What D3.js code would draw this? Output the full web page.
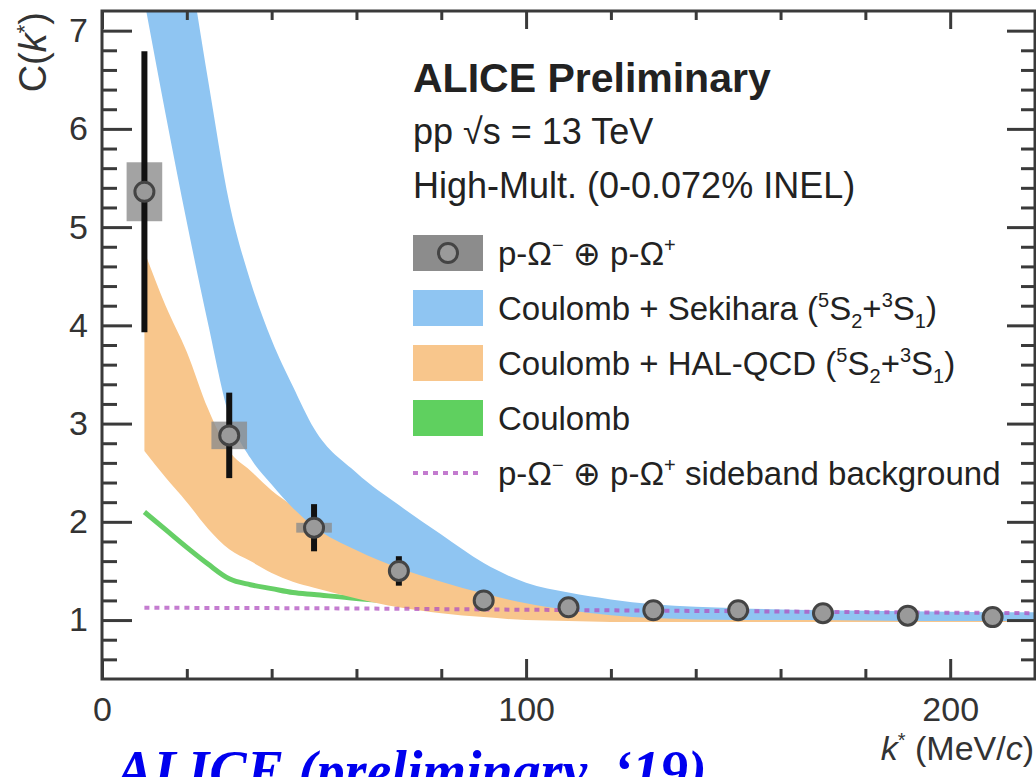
<!DOCTYPE html>
<html>
<head>
<meta charset="utf-8">
<script src="https://cdn.jsdelivr.net/npm/d3@7"></script>
<style>
  html, body { margin: 0; padding: 0; background: #fff; }
  svg { display: block; }
</style>
</head>
<body>
<svg id="chart" width="1036" height="777"></svg>
<script>
// ---------------- DATA ----------------
const kPoints   = [10, 30, 50, 70, 90, 110, 130, 150, 170, 190, 210];
const cPoints   = [5.36, 2.88, 1.94, 1.50, 1.20, 1.13, 1.10, 1.10, 1.07, 1.045, 1.03];
const statErr   = [1.43, 0.435, 0.24, 0.15, 0.05, 0.03, 0.02, 0.02, 0.02, 0.02, 0.02];
const systErr   = [0.30, 0.14, 0.05, 0, 0, 0, 0, 0, 0, 0, 0];

const kBand          = [10, 15, 20, 25, 30, 35, 40, 45, 50, 60, 70, 80, 90, 100, 110, 120, 130, 150, 170, 190, 210, 220];
const sekiharaUpper  = [10.0, 8.8, 7.8, 6.5, 5.25, 4.45, 3.85, 3.38, 2.95, 2.5, 2.17, 1.87, 1.58, 1.38, 1.28, 1.21, 1.16, 1.12, 1.10, 1.09, 1.08, 1.08];
const sekiharaLower  = [7.3, 6.15, 5.05, 4.02, 3.08, 2.65, 2.38, 2.14, 1.95, 1.71, 1.53, 1.39, 1.27, 1.17, 1.10, 1.05, 1.02, 1.00, 1.00, 0.99, 0.99, 0.99];
const halUpper       = [4.75, 4.2, 3.73, 3.15, 2.72, 2.52, 2.32, 2.16, 1.99, 1.75, 1.56, 1.42, 1.30, 1.20, 1.12, 1.07, 1.04, 1.02, 1.01, 1.01, 1.00, 1.00];
const halLower       = [2.72, 2.45, 2.2, 1.93, 1.72, 1.6, 1.48, 1.39, 1.33, 1.22, 1.13, 1.07, 1.03, 1.00, 0.99, 0.98, 0.98, 0.98, 0.98, 0.98, 0.98, 0.98];
const coulombOnly    = [2.10, 1.92, 1.74, 1.57, 1.42, 1.36, 1.32, 1.28, 1.26, 1.22, 1.19, 1.16, 1.14, 1.12, 1.10, 1.09, 1.08, 1.06, 1.05, 1.04, 1.03, 1.03];

const kSideband  = [10, 50, 100, 150, 200, 220];
const sideband   = [1.125, 1.12, 1.105, 1.09, 1.075, 1.07];

const xMajorTicks = [0, 100, 200];
const xMinorTicks = [20, 40, 60, 80, 120, 140, 160, 180, 220];
const yMajorTicks = [1, 2, 3, 4, 5, 6, 7];

const headerLines = ["ALICE Preliminary", "pp  √s = 13 TeV", "High-Mult. (0-0.072% INEL)"];
const legendLabels = [
  [["p-Ω", "n"], ["−", "sup"], [" ⊕ p-Ω", "n"], ["+", "sup"]],
  [["Coulomb + Sekihara (", "n"], ["5", "sup"], ["S", "n"], ["2", "sub"], ["+", "n"], ["3", "sup"], ["S", "n"], ["1", "sub"], [")", "n"]],
  [["Coulomb + HAL-QCD (", "n"], ["5", "sup"], ["S", "n"], ["2", "sub"], ["+", "n"], ["3", "sup"], ["S", "n"], ["1", "sub"], [")", "n"]],
  [["Coulomb", "n"]],
  [["p-Ω", "n"], ["−", "sup"], [" ⊕ p-Ω", "n"], ["+", "sup"], [" sideband background", "n"]]
];
const footnote = "ALICE (preliminary, ‘19)";

// ---------------- STYLE ----------------
const blue = "#8fc5f2", orange = "#f8c68c", green = "#66cf66", magenta = "#b050c0";
const axisCol = "#3a3a3a";
const sans = "'Liberation Sans', Arial, Helvetica, sans-serif";

// ---------------- SCALES ----------------
const x = d3.scaleLinear().domain([0, 220]).range([102, 1035]);
const y = d3.scaleLinear().domain([0.4, 7.2]).range([679, 11]);

const svg = d3.select("#chart").style("font-family", sans);
svg.append("defs").append("clipPath").attr("id", "plotClip")
  .append("rect").attr("x", x(0)).attr("y", y(7.2)).attr("width", x(220) - x(0)).attr("height", y(0.4) - y(7.2));

const plot = svg.append("g").attr("clip-path", "url(#plotClip)");

const bandData = kBand.map((k, i) => ({k, su: sekiharaUpper[i], sl: sekiharaLower[i], hu: halUpper[i], hl: halLower[i], c: coulombOnly[i]}));

// Coulomb line
plot.append("path").datum(bandData)
  .attr("d", d3.line().x(d => x(d.k)).y(d => y(d.c)).curve(d3.curveMonotoneX))
  .attr("fill", "none").attr("stroke", green).attr("stroke-width", 5);

// HAL-QCD band
plot.append("path").datum(bandData)
  .attr("d", d3.area().x(d => x(d.k)).y0(d => y(d.hl)).y1(d => y(d.hu)).curve(d3.curveMonotoneX))
  .attr("fill", orange);

// Sekihara band
plot.append("path").datum(bandData)
  .attr("d", d3.area().x(d => x(d.k)).y0(d => y(d.sl)).y1(d => y(d.su)).curve(d3.curveMonotoneX))
  .attr("fill", blue);

// sideband background
const sideData = kSideband.map((k, i) => ({k, v: sideband[i]}));
plot.append("path").datum(sideData)
  .attr("d", d3.line().x(d => x(d.k)).y(d => y(d.v)).curve(d3.curveMonotoneX))
  .attr("fill", "none").attr("stroke", magenta).attr("stroke-width", 4)
  .attr("stroke-dasharray", "5,5").attr("opacity", 0.75);

// data points
const pts = kPoints.map((k, i) => ({k, c: cPoints[i], s: statErr[i], sy: systErr[i]}));
const pg = plot.append("g");
pg.selectAll("rect.syst").data(pts.filter(d => d.sy > 0)).join("rect")
  .attr("x", d => x(d.k - 4.2)).attr("width", d => x(d.k + 4.2) - x(d.k - 4.2))
  .attr("y", d => y(d.c + d.sy)).attr("height", d => y(d.c - d.sy) - y(d.c + d.sy))
  .attr("fill", "#8c8c8c").attr("opacity", 0.8);
pg.selectAll("line.stat").data(pts).join("line")
  .attr("x1", d => x(d.k)).attr("x2", d => x(d.k))
  .attr("y1", d => y(d.c + d.s)).attr("y2", d => y(d.c - d.s))
  .attr("stroke", "#111").attr("stroke-width", 6);
pg.selectAll("circle").data(pts).join("circle")
  .attr("cx", d => x(d.k)).attr("cy", d => y(d.c)).attr("r", 9.5)
  .attr("fill", "#9a9a9a").attr("stroke", "#444").attr("stroke-width", 3);

// ---------------- AXES ----------------
function styleAxis(g) {
  g.select(".domain").remove();
  g.selectAll("line").attr("stroke", axisCol).attr("stroke-width", 3);
}
function styleLabels(g) {
  g.select(".domain").remove();
  g.selectAll("text").attr("font-size", 34).attr("fill", "#333").style("font-family", sans);
}
const yMinor = d3.range(6, 72, 2).map(v => v / 10).filter(v => Math.abs(v - Math.round(v)) > 1e-6);

// left
svg.append("g").attr("transform", `translate(${x(0)},0)`)
  .call(d3.axisRight(y).tickValues(yMajorTicks).tickSize(30).tickFormat("")).call(styleAxis);
svg.append("g").attr("transform", `translate(${x(0)},0)`)
  .call(d3.axisRight(y).tickValues(yMinor).tickSize(15).tickFormat("")).call(styleAxis);
svg.append("g").attr("transform", `translate(${x(0)},0)`)
  .call(d3.axisLeft(y).tickValues(yMajorTicks).tickSize(0).tickPadding(14).tickFormat(d3.format("d")))
  .call(styleLabels);
// right
svg.append("g").attr("transform", `translate(${x(220)},0)`)
  .call(d3.axisLeft(y).tickValues(yMajorTicks).tickSize(28).tickFormat("")).call(styleAxis);
svg.append("g").attr("transform", `translate(${x(220)},0)`)
  .call(d3.axisLeft(y).tickValues(yMinor).tickSize(14).tickFormat("")).call(styleAxis);
// bottom
svg.append("g").attr("transform", `translate(0,${y(0.4)})`)
  .call(d3.axisTop(x).tickValues(xMajorTicks).tickSize(20).tickFormat("")).call(styleAxis);
svg.append("g").attr("transform", `translate(0,${y(0.4)})`)
  .call(d3.axisTop(x).tickValues(xMinorTicks).tickSize(10).tickFormat("")).call(styleAxis);
svg.append("g").attr("transform", `translate(0,${y(0.4)})`)
  .call(d3.axisBottom(x).tickValues(xMajorTicks).tickSize(0).tickPadding(18).tickFormat(d3.format("d")))
  .call(styleLabels);
// top
svg.append("g").attr("transform", `translate(0,${y(7.2)})`)
  .call(d3.axisBottom(x).tickValues(xMajorTicks).tickSize(18).tickFormat("")).call(styleAxis);
svg.append("g").attr("transform", `translate(0,${y(7.2)})`)
  .call(d3.axisBottom(x).tickValues(xMinorTicks).tickSize(9).tickFormat("")).call(styleAxis);

// frame
svg.append("rect").attr("x", x(0)).attr("y", y(7.2)).attr("width", x(220) - x(0)).attr("height", y(0.4) - y(7.2))
  .attr("fill", "none").attr("stroke", axisCol).attr("stroke-width", 3);

// axis titles
const yt = svg.append("text").attr("transform", "translate(46,12) rotate(-90)")
  .attr("text-anchor", "end").attr("font-size", 38).attr("fill", "#333");
yt.append("tspan").text("C(");
yt.append("tspan").attr("font-style", "italic").text("k");
yt.append("tspan").attr("font-size", 22).attr("dy", -14).text("*");
yt.append("tspan").attr("dy", 14).text(")");

const xt = svg.append("text").attr("x", 1034).attr("y", 760).attr("text-anchor", "end")
  .attr("font-size", 34).attr("fill", "#333");
xt.append("tspan").attr("font-style", "italic").text("k");
xt.append("tspan").attr("font-size", 20).attr("dy", -13).text("*");
xt.append("tspan").attr("dy", 13).text(" (MeV/");
xt.append("tspan").attr("font-style", "italic").text("c");
xt.append("tspan").text(")");

// ---------------- HEADER & LEGEND ----------------
const hdr = svg.append("g").attr("fill", "#222");
hdr.append("text").attr("x", 413).attr("y", 92).attr("font-size", 41).attr("font-weight", "bold").text(headerLines[0]);
hdr.append("text").attr("x", 413).attr("y", 144).attr("font-size", 36).text(headerLines[1]);
hdr.append("text").attr("x", 413).attr("y", 198).attr("font-size", 36).text(headerLines[2]);

const legY = [253, 308, 363, 418, 473];
const leg = svg.append("g");
leg.append("rect").attr("x", 413).attr("y", legY[0] - 18).attr("width", 70).attr("height", 36).attr("fill", "#8c8c8c");
leg.append("circle").attr("cx", 448).attr("cy", legY[0]).attr("r", 9.5).attr("fill", "#9a9a9a").attr("stroke", "#444").attr("stroke-width", 3);
leg.append("rect").attr("x", 413).attr("y", legY[1] - 18).attr("width", 70).attr("height", 36).attr("fill", blue);
leg.append("rect").attr("x", 413).attr("y", legY[2] - 18).attr("width", 70).attr("height", 36).attr("fill", orange);
leg.append("rect").attr("x", 413).attr("y", legY[3] - 18).attr("width", 70).attr("height", 36).attr("fill", "#5fd05f");
leg.append("line").attr("x1", 413).attr("x2", 483).attr("y1", legY[4]).attr("y2", legY[4])
  .attr("stroke", magenta).attr("stroke-width", 4).attr("stroke-dasharray", "5,5").attr("opacity", 0.75);

legendLabels.forEach((parts, i) => {
  const t = leg.append("text").attr("x", 498).attr("y", legY[i] + 12).attr("font-size", 33).attr("fill", "#222");
  let shift = 0;
  parts.forEach(([s, type]) => {
    const target = type === "sup" ? -13 : type === "sub" ? 8 : 0;
    const ts = t.append("tspan").attr("dy", target - shift).text(s);
    if (type !== "n") ts.attr("font-size", 20);
    shift = target;
  });
});

// footnote
svg.append("text").attr("x", 116).attr("y", 790)
  .style("font-family", "'Liberation Serif', 'Times New Roman', Times, serif")
  .attr("font-style", "italic").attr("font-weight", "bold")
  .attr("font-size", 56).attr("fill", "#0000ee").text(footnote);
</script>
</body>
</html>
